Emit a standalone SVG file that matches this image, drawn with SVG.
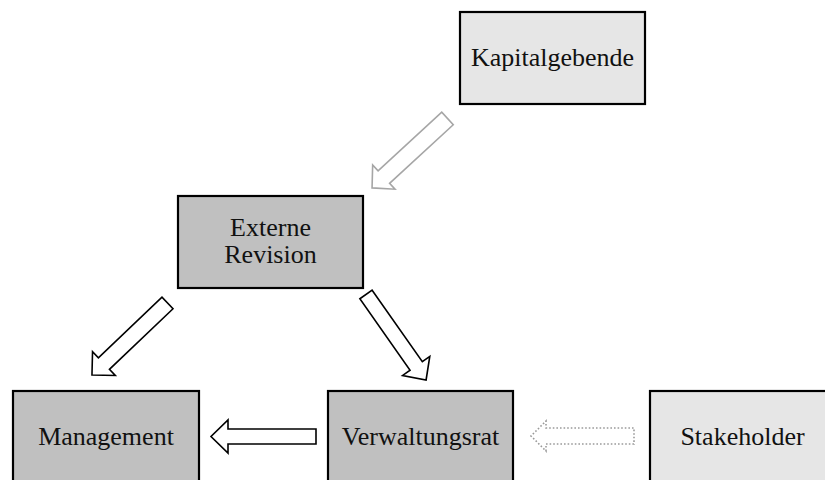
<svg xmlns="http://www.w3.org/2000/svg" width="825" height="480" viewBox="0 0 825 480">
  <style>
    .box { stroke: #000; stroke-width: 2.2; }
    .light { fill: #e6e6e6; }
    .dark { fill: #c0c0c0; }
    .label { font-family: "Liberation Serif", "Times New Roman", serif; font-size: 26px; fill: #111; text-anchor: middle; }
    .arrow { fill: #fff; stroke: #000; stroke-width: 1.6; stroke-linejoin: miter; }
    .arrow-grey { fill: #fff; stroke: #a6a6a6; stroke-width: 1.6; }
    .arrow-dotted { fill: #fff; stroke: #9a9a9a; stroke-width: 1.6; stroke-dasharray: 1.6 2; }
  </style>

  <rect width="825" height="480" fill="#fff"/>

  <!-- connectors: hollow block arrows -->
  <g id="connectors">
    <polygon class="arrow-grey" transform="translate(447.5,118.5) rotate(137.4)"
      points="0,-8.5 86.5,-8.5 86.5,-16.5 102.5,0 86.5,16.5 86.5,8.5 0,8.5"/>
    <polygon class="arrow" transform="translate(167.5,303) rotate(136.4)"
      points="0,-8 87.8,-8 87.8,-16.5 104.3,0 87.8,16.5 87.8,8 0,8"/>
    <polygon class="arrow" transform="translate(366,294.5) rotate(54.9)"
      points="0,-7.5 87.3,-7.5 87.3,-16.6 104.5,0 87.3,16.6 87.3,7.5 0,7.5"/>
    <polygon class="arrow" transform="translate(316,436.5) rotate(180)"
      points="0,-7.5 88,-7.5 88,-16.5 105,0 88,16.5 88,7.5 0,7.5"/>
    <polygon class="arrow-dotted" transform="translate(634,436) rotate(180)"
      points="0,-8 88,-8 88,-15 103,0 88,15 88,8 0,8"/>
  </g>

  <g id="kapitalgebende">
    <rect class="box light" x="460" y="12" width="185" height="92"/>
    <text class="label" x="552.5" y="66">Kapitalgebende</text>
  </g>

  <g id="externe-revision">
    <rect class="box dark" x="178" y="196" width="185" height="92"/>
    <text class="label" x="270.5" y="236">Externe</text>
    <text class="label" x="270.5" y="263">Revision</text>
  </g>

  <g id="management">
    <rect class="box dark" x="13" y="391" width="186" height="95"/>
    <text class="label" x="106" y="445">Management</text>
  </g>

  <g id="verwaltungsrat">
    <rect class="box dark" x="328" y="391" width="185" height="95"/>
    <text class="label" x="420.5" y="445">Verwaltungsrat</text>
  </g>

  <g id="stakeholder">
    <rect class="box light" x="650" y="391" width="185" height="95"/>
    <text class="label" x="742.5" y="445">Stakeholder</text>
  </g>
</svg>
